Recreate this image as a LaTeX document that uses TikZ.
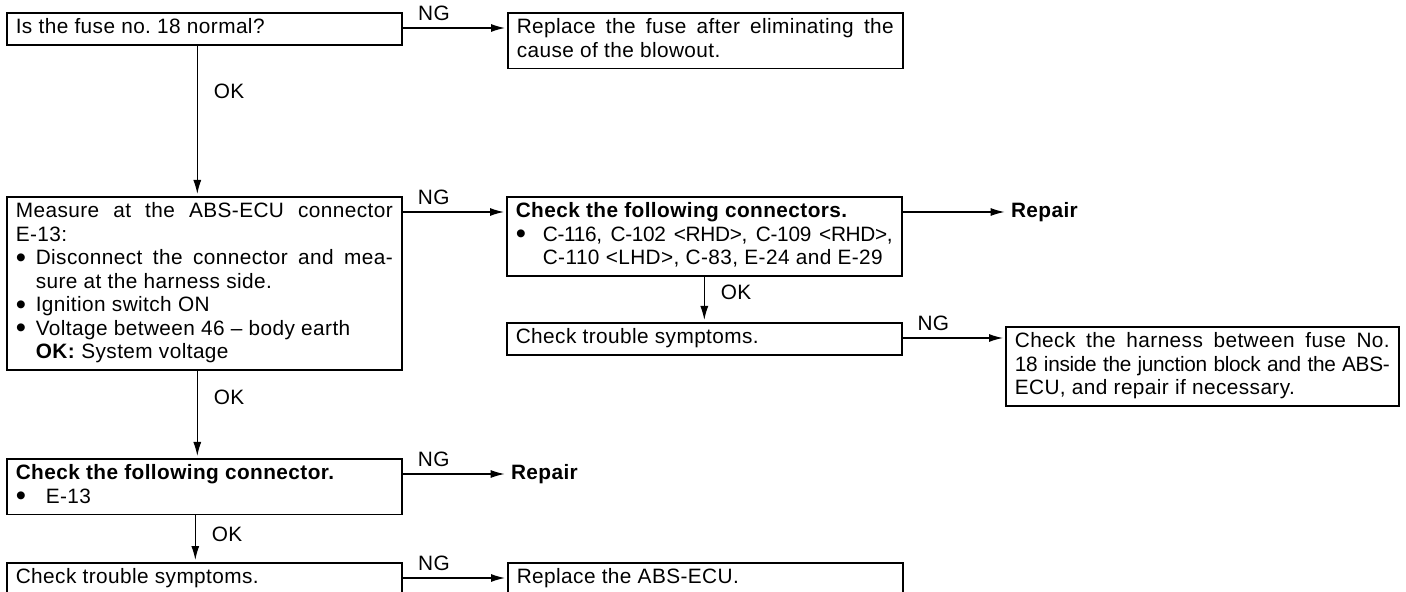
\documentclass[tikz,border=0pt]{standalone}
\usepackage{fontspec}
\setmainfont{Liberation Sans}[LetterSpace=2]
\usetikzlibrary{arrows.meta,positioning}
\setlength\parindent{0pt}

\newcommand\chartfont{\fontsize{10.4}{11.75}\selectfont}
\newcommand\bigdot{\raisebox{-0.13em}{\scalebox{1.4}{\textbullet}}}
\newcommand\bul[1][10pt]{\par\noindent\makebox[#1][l]{\bigdot}\ignorespaces}
\newcommand\tight[1]{{\addfontfeature{LetterSpace=-1.5}#1}}

\begin{document}
\begin{tikzpicture}[
        x=0.5pt, y=-0.5pt,
        box/.style={draw, line width=0.8pt, anchor=north west, inner xsep=4.5pt,
            inner ysep=2.2pt, text width=188.5pt, align=justify, font=\chartfont,
            execute at begin node=\strut, execute at end node=\strut},
        flow/.style={draw, line width=0.6pt, -{Latex[length=7pt,width=4pt]},
            shorten >=1pt},
        tag/.style={font=\chartfont, inner sep=1.5pt},
        repair/.style={font=\chartfont\bfseries, inner sep=2pt},
    ]
    \useasboundingbox (0,0) rectangle (1406,592);

    \node[box] (fuse) at (6,12) {Is the fuse no.\ 18 normal?};
    \node[box] (blow) at (507,12) {Replace the fuse after eliminating the\linebreak
        cause of the blowout.};
    \node[box] (measure) at (6,196) {Measure at the ABS-ECU connector\linebreak E-13:
        \bul Disconnect the connector and mea-\linebreak\hspace*{10pt}sure at the harness side.
        \bul Ignition switch ON
        \bul Voltage between 46 -- body earth\hfill\break\hspace*{10pt}\textbf{OK:} System voltage};
    \node[box] (conns) at (506,196) {\textbf{Check the following connectors.}
        \bul[13.5pt] \tight{C-116, C-102 <RHD>, C-109 <RHD>,}\linebreak
        \hspace*{13.5pt}C-110 <LHD>, C-83, E-24 and E-29};
    \node[box] (symp) at (506,322) {Check trouble symptoms.};
    \node[box, text width=187.5pt] (harness) at (1005,326) {Check the harness
        between fuse No.\linebreak \tight{18 inside the junction block and the ABS-}\linebreak
        ECU, and repair if necessary.};
    \node[box] (conn) at (6,458) {\textbf{Check the following connector.}
        \bul[15pt] E-13};
    \node[box] (final) at (6,562) {Check trouble symptoms.};
    \node[box] (ecu) at (507,562) {Replace the ABS-ECU.};
    \node[repair, right=52pt of conns.north east, yshift=-8pt] (fixA) {Repair};
    \node[repair, right=52pt of conn.north east, yshift=-8pt] (fixB) {Repair};

    \draw[flow] ([yshift=-8pt]fuse.north east) -- ([yshift=-8pt]fuse.north east -| blow.west)
        node[tag, pos=0.3, above=2pt] {NG};
    \draw[flow] ([xshift=-3.5pt]fuse.south) -- ([xshift=-3.5pt]fuse.south |- measure.north)
        node[tag, pos=0.3, right=6.5pt] {OK};
    \draw[flow] ([yshift=-8pt]measure.north east) -- ([yshift=-8pt]measure.north east -| conns.west)
        node[tag, pos=0.3, above=2pt] {NG};
    \draw[flow] ([yshift=-8pt]conns.north east) -- (fixA);
    \draw[flow] (conns.south) -- (symp.north) node[tag, pos=0.35, right=6.5pt] {OK};
    \draw[flow] ([yshift=-8pt]symp.north east) -- ([yshift=-8pt]symp.north east -| harness.west)
        node[tag, pos=0.3, above=2pt] {NG};
    \draw[flow] ([xshift=-3.5pt]measure.south) -- ([xshift=-3.5pt]measure.south |- conn.north)
        node[tag, pos=0.3, right=6.5pt] {OK};
    \draw[flow] ([yshift=-8pt]conn.north east) -- (fixB) node[tag, pos=0.3, above=2pt] {NG};
    \draw[flow] ([xshift=-4.5pt]conn.south) -- ([xshift=-4.5pt]conn.south |- final.north)
        node[tag, pos=0.4, right=6.5pt] {OK};
    \draw[flow] ([yshift=-8pt]final.north east) -- ([yshift=-8pt]final.north east -| ecu.west)
        node[tag, pos=0.3, above=2pt] {NG};
\end{tikzpicture}
\end{document}
